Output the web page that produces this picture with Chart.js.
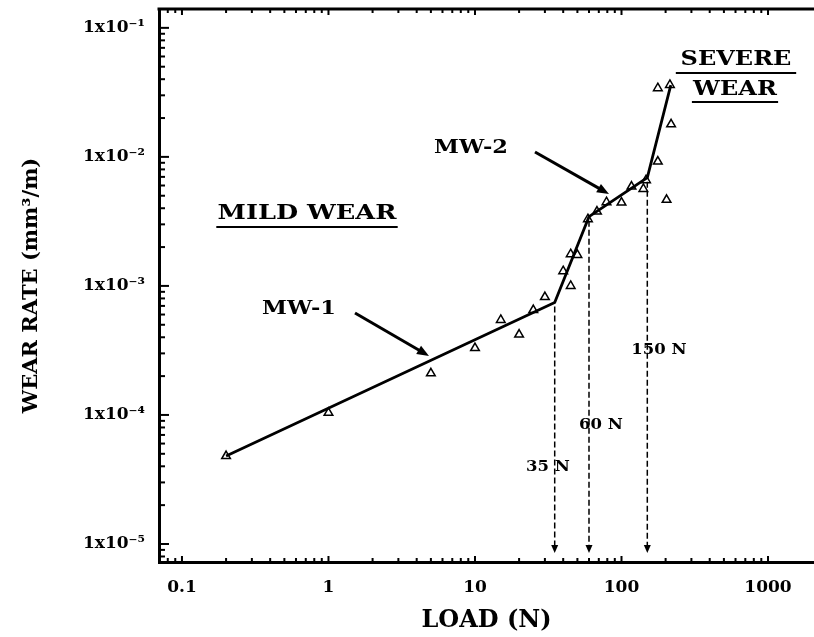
<!DOCTYPE html>
<html>
<head>
<meta charset="utf-8">
<script src="https://cdn.jsdelivr.net/npm/chart.js@4.4.1/dist/chart.umd.min.js"></script>
<style>
  html, body { margin: 0; padding: 0; background: #fff; }
</style>
</head>
<body>
<canvas id="wearChart" width="814" height="637"></canvas>
<script>
// measured wear rates (triangles)
const loads     = [0.2, 1, 5, 10, 15, 20, 25, 30, 40, 45, 45, 50, 59, 68, 79, 100, 117, 141, 147, 177, 203, 218, 177, 214];
const wearRates = [4.8e-5, 1.04e-4, 2.1e-4, 3.3e-4, 5.45e-4, 4.2e-4, 6.5e-4, 8.2e-4, 1.3e-3, 1.0e-3, 1.76e-3, 1.74e-3,
                   3.29e-3, 3.77e-3, 4.46e-3, 4.43e-3, 5.89e-3, 5.65e-3, 6.6e-3, 9.2e-3, 4.65e-3, 1.79e-2, 3.41e-2, 3.61e-2];

// piecewise fit line
const fitLoads = [0.2, 35, 60, 150, 217];
const fitRates = [4.8e-5, 7.43e-4, 3.44e-3, 6.9e-3, 3.6e-2];

// transition loads marked with dashed arrows (they are corners of the fit line)
const transitionLoads = [35, 60, 150];
const transitionLabels = ["35 N", "60 N", "150 N"];

const xTickValues = [0.1, 1, 10, 100, 1000];
const xTickLabels = ["0.1", "1", "10", "100", "1000"];
const yTickValues = [1e-5, 1e-4, 1e-3, 1e-2, 1e-1];
const yTickLabels = ["1x10⁻⁵", "1x10⁻⁴", "1x10⁻³", "1x10⁻²", "1x10⁻¹"];

const SERIF = '"DejaVu Serif", "Liberation Serif", serif';

function drawText(ctx, text, x, y, size, sx, underline) {
  ctx.save();
  ctx.font = `bold ${size}px ${SERIF}`;
  ctx.fillStyle = "#000";
  ctx.translate(x, y);
  ctx.scale(sx, 1);
  ctx.textAlign = "center";
  ctx.textBaseline = "middle";
  ctx.fillText(text, 0, 0);
  if (underline) {
    const w = ctx.measureText(text).width;
    ctx.fillRect(-w / 2 - underline.extra, underline.dy, w + 2 * underline.extra, 2);
  }
  ctx.restore();
}

function drawArrow(ctx, x1, y1, x2, y2, head, width) {
  const a = Math.atan2(y2 - y1, x2 - x1);
  ctx.save();
  ctx.strokeStyle = "#000";
  ctx.fillStyle = "#000";
  ctx.lineWidth = width;
  ctx.beginPath();
  ctx.moveTo(x1, y1);
  ctx.lineTo(x2 - head * 0.7 * Math.cos(a), y2 - head * 0.7 * Math.sin(a));
  ctx.stroke();
  ctx.beginPath();
  ctx.moveTo(x2, y2);
  ctx.lineTo(x2 - head * Math.cos(a) + head * 0.4 * Math.sin(a), y2 - head * Math.sin(a) - head * 0.4 * Math.cos(a));
  ctx.lineTo(x2 - head * Math.cos(a) - head * 0.4 * Math.sin(a), y2 - head * Math.sin(a) + head * 0.4 * Math.cos(a));
  ctx.closePath();
  ctx.fill();
  ctx.restore();
}

// inward log tick marks on left, bottom and top, plus the top frame line
const frameTicks = {
  id: "frameTicks",
  afterDatasetsDraw(chart) {
    const { ctx, chartArea: area, scales: { x, y } } = chart;
    ctx.save();
    ctx.strokeStyle = "#000";
    ctx.lineWidth = 2;
    for (let d = -7; d <= 0; d++) {
      for (let m = 1; m <= 9; m++) {
        const v = m * Math.pow(10, d);
        const py = y.getPixelForValue(v);
        if (py > area.top + 2 && py < area.bottom - 2) {
          const len = m === 1 ? 10 : 6;
          ctx.beginPath();
          ctx.moveTo(area.left, py);
          ctx.lineTo(area.left + len, py);
          ctx.stroke();
        }
      }
    }
    for (let d = -2; d <= 4; d++) {
      for (let m = 1; m <= 9; m++) {
        const v = m * Math.pow(10, d);
        const px = x.getPixelForValue(v);
        if (px > area.left + 2 && px < area.right - 2) {
          const len = m === 1 ? 6 : 4;
          ctx.beginPath();
          ctx.moveTo(px, area.bottom);
          ctx.lineTo(px, area.bottom - len);
          ctx.moveTo(px, area.top);
          ctx.lineTo(px, area.top + len);
          ctx.stroke();
        }
      }
    }
    ctx.lineWidth = 3;
    ctx.beginPath();
    ctx.moveTo(area.left - 1.5, area.top);
    ctx.lineTo(area.right, area.top);
    ctx.stroke();
    ctx.restore();
  }
};

const annotations = {
  id: "annotations",
  afterDatasetsDraw(chart) {
    const { ctx, chartArea: area, scales: { x, y } } = chart;

    // dashed transition lines with arrowheads
    ctx.save();
    ctx.strokeStyle = "#000";
    ctx.lineWidth = 1.5;
    transitionLoads.forEach(load => {
      const idx = fitLoads.indexOf(load);
      const px = x.getPixelForValue(load);
      const top = y.getPixelForValue(fitRates[idx]) + 4;
      const tip = area.bottom - 9;
      ctx.setLineDash([6, 3]);
      ctx.beginPath();
      ctx.moveTo(px, top);
      ctx.lineTo(px, tip - 6);
      ctx.stroke();
      ctx.setLineDash([]);
      ctx.beginPath();
      ctx.moveTo(px, tip);
      ctx.lineTo(px - 3.5, tip - 8);
      ctx.lineTo(px + 3.5, tip - 8);
      ctx.closePath();
      ctx.fill();
    });
    ctx.restore();

    drawText(ctx, transitionLabels[0], 548, 467, 15, 1.1);
    drawText(ctx, transitionLabels[1], 601, 425, 15, 1.1);
    drawText(ctx, transitionLabels[2], 659, 350, 15, 1.1);

    drawText(ctx, "MILD WEAR", 307, 214, 20, 1.28, { dy: 12, extra: 1 });
    drawText(ctx, "MW-1", 299, 309, 18, 1.25);
    drawArrow(ctx, 355, 313, 429, 356, 12, 3);
    drawText(ctx, "MW-2", 471, 148, 18, 1.25);
    drawArrow(ctx, 535, 152, 609, 194, 12, 3);
    drawText(ctx, "SEVERE", 736, 60, 20, 1.2, { dy: 12, extra: 4 });
    drawText(ctx, "WEAR", 735, 90, 20, 1.2, { dy: 11, extra: 1 });
  }
};

new Chart(document.getElementById("wearChart"), {
  type: "scatter",
  data: {
    datasets: [
      {
        label: "fit",
        data: fitLoads.map((l, i) => ({ x: l, y: fitRates[i] })),
        showLine: true,
        borderColor: "#000",
        borderWidth: 2.8,
        pointRadius: 0,
        tension: 0
      },
      {
        label: "measured",
        data: loads.map((l, i) => ({ x: l, y: wearRates[i] })),
        pointStyle: "triangle",
        pointRadius: 5,
        borderWidth: 1.5,
        borderColor: "#000",
        backgroundColor: "#fff"
      }
    ]
  },
  options: {
    responsive: false,
    animation: false,
    devicePixelRatio: 1,
    layout: { autoPadding: false, padding: { top: 9, right: 0, left: 0, bottom: 0 } },
    plugins: { legend: { display: false }, tooltip: { enabled: false } },
    scales: {
      x: {
        type: "logarithmic",
        position: "bottom",
        min: 0.0697,
        max: 2060,
        afterBuildTicks: scale => { scale.ticks = xTickValues.map(v => ({ value: v })); },
        afterFit: scale => {
          scale.height = 75;
          scale.paddingLeft = 0;
          scale.paddingRight = 0;
        },
        grid: { display: false, drawTicks: false },
        border: { display: true, color: "#000", width: 3 },
        ticks: {
          autoSkip: false,
          maxRotation: 0,
          padding: 15,
          color: "#000",
          font: { family: SERIF, size: 17, weight: "bold" },
          callback: (v, i) => xTickLabels[i]
        },
        title: {
          display: true,
          text: "LOAD (N)",
          color: "#000",
          font: { family: SERIF, size: 24, weight: "bold" },
          padding: { top: 0, bottom: 2 }
        }
      },
      y: {
        type: "logarithmic",
        position: "left",
        min: 7.25e-6,
        max: 0.14,
        afterBuildTicks: scale => { scale.ticks = yTickValues.map(v => ({ value: v })); },
        afterFit: scale => {
          scale.width = 159;
          scale.paddingTop = 0;
          scale.paddingBottom = 0;
        },
        grid: { display: false, drawTicks: false },
        border: { display: true, color: "#000", width: 3 },
        ticks: {
          autoSkip: false,
          padding: 14,
          color: "#000",
          font: { family: SERIF, size: 17, weight: "bold" },
          callback: (v, i) => yTickLabels[i]
        },
        title: {
          display: true,
          text: "WEAR RATE (mm³/m)",
          color: "#000",
          font: { family: SERIF, size: 21, weight: "bold" },
          padding: { top: 19, bottom: 0 }
        }
      }
    }
  },
  plugins: [frameTicks, annotations]
});
</script>
</body>
</html>
